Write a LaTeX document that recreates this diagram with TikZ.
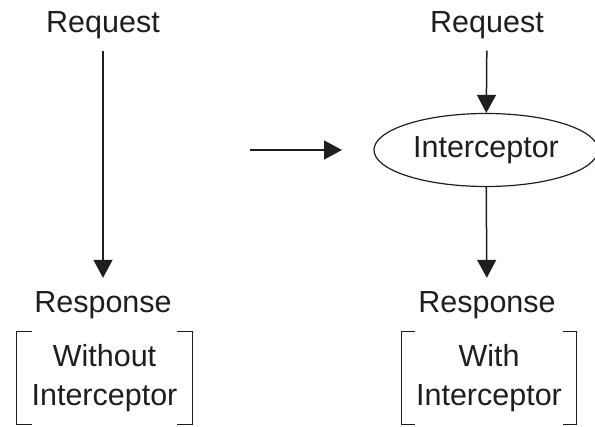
\documentclass[tikz,border=0pt]{standalone}
\usepackage{fontspec}
\setmainfont{Liberation Sans}
\usetikzlibrary{arrows.meta,shapes.geometric}
\definecolor{inkgrey}{RGB}{30, 30, 30}

\begin{document}
\begin{tikzpicture}[x=1pt, y=-1pt, >={Triangle[length=18pt, width=19pt]},
    lbl/.style={font=\fontsize{30.5}{39}\selectfont, text=inkgrey, anchor=base, inner sep=0pt},
    note/.style={font=\fontsize{30.5}{39}\selectfont, text=inkgrey, align=center, minimum width=175pt, minimum height=92pt, inner sep=0pt},
    flow/.style={->, inkgrey, line width=1.5pt}]
    \useasboundingbox (0,0) rectangle (595,427);
    % left: without interceptor
    \node[lbl] (req1) at (103,33) {Request};
    \node[lbl] (resp1) at (103,313) {Response};
    \draw[flow, shorten <=11pt, shorten >=14pt] (req1) -- (resp1);
    \node[note] (wo) at (104.5,378) {Without\\Interceptor};
    \draw[inkgrey, line width=1.3pt] ([xshift=15pt]wo.north west) -- (wo.north west) -- (wo.south west) -- ++(15,0);
    \draw[inkgrey, line width=1.3pt] ([xshift=-15pt]wo.north east) -- (wo.north east) -- (wo.south east) -- ++(-15,0);
    % middle arrow
    \coordinate (mida) at (250,150);
    \coordinate (midb) at (342,150);
    \draw[flow] (mida) -- (midb);
    % right: with interceptor
    \node[lbl] (req2) at (487,33) {Request};
    \node[ellipse, draw=inkgrey, line width=1.2pt, minimum width=224pt, minimum height=73pt, inner sep=0pt,
          font=\fontsize{30.5}{39}\selectfont, text=inkgrey] (ic) at (486,150) {Interceptor};
    \node[lbl] (resp2) at (487,313) {Response};
    \draw[flow, shorten <=11pt] (req2) -- (ic);
    \draw[flow, shorten >=14pt] (ic) -- (resp2);
    \node[note] (wi) at (489,378) {With\\Interceptor};
    \draw[inkgrey, line width=1.3pt] ([xshift=14pt]wi.north west) -- (wi.north west) -- (wi.south west) -- ++(14,0);
    \draw[inkgrey, line width=1.3pt] ([xshift=-14pt]wi.north east) -- (wi.north east) -- (wi.south east) -- ++(-14,0);
\end{tikzpicture}
\end{document}
